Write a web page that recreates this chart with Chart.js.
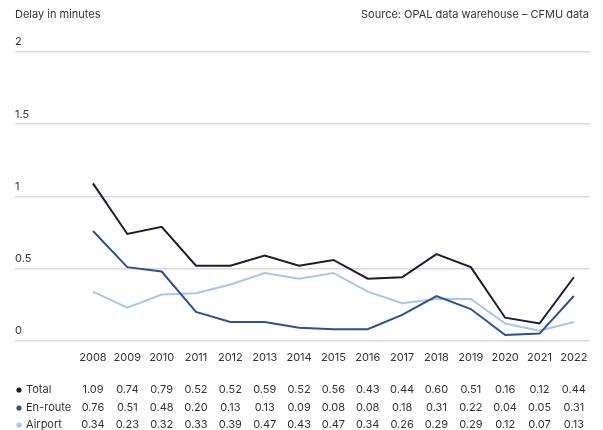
<!DOCTYPE html>
<html>
<head>
<meta charset="utf-8">
<script src="https://cdn.jsdelivr.net/npm/chart.js@4"></script>
<style>
  body { margin: 0; background: #fff; }
  canvas { display: block; }
</style>
</head>
<body>
<canvas id="delaychart" width="603" height="430"></canvas>
<script>
const years = [2008, 2009, 2010, 2011, 2012, 2013, 2014, 2015, 2016, 2017, 2018, 2019, 2020, 2021, 2022]
const total = [1.09, 0.74, 0.79, 0.52, 0.52, 0.59, 0.52, 0.56, 0.43, 0.44, 0.60, 0.51, 0.16, 0.12, 0.44]
const enRoute = [0.76, 0.51, 0.48, 0.20, 0.13, 0.13, 0.09, 0.08, 0.08, 0.18, 0.31, 0.22, 0.04, 0.05, 0.31]
const airport = [0.34, 0.23, 0.32, 0.33, 0.39, 0.47, 0.43, 0.47, 0.34, 0.26, 0.29, 0.29, 0.12, 0.07, 0.13]
const seriesNames = ['Total', 'En-route', 'Airport']
const seriesColors = ['#1b1b35', '#2d5091', '#a8c5ea']
const yTicks = [0, 0.5, 1, 1.5, 2]

const FONT = '11px Inter, "Noto Sans", sans-serif'
const TEXT = '#333333'

const toPoints = arr => arr.map((v, i) => ({ x: years[i], y: v }))
const allSeries = [total, enRoute, airport]

// header texts and the data table under the axis
const extras = {
  id: 'extras',
  afterDraw (chart) {
    const ctx = chart.ctx
    const xs = chart.scales.x
    ctx.save()
    ctx.font = FONT
    ctx.fillStyle = TEXT
    ctx.textBaseline = 'middle'
    ctx.textAlign = 'left'
    ctx.fillText('Delay in minutes', 15, 15)
    ctx.textAlign = 'right'
    ctx.fillText('Source: OPAL data warehouse \u2013 CFMU data', 589, 15)

    const rowY = [390, 408, 425]
    allSeries.forEach((arr, r) => {
      ctx.fillStyle = seriesColors[r]
      ctx.beginPath()
      ctx.arc(19, rowY[r], 2.6, 0, Math.PI * 2)
      ctx.fill()
      ctx.fillStyle = TEXT
      ctx.textAlign = 'left'
      ctx.fillText(seriesNames[r], 26, rowY[r])
      ctx.textAlign = 'center'
      arr.forEach((v, i) => {
        ctx.fillText(v.toFixed(2), xs.getPixelForValue(years[i]), rowY[r])
      })
    })
    ctx.restore()
  }
}

new Chart(document.getElementById('delaychart'), {
  type: 'line',
  data: {
    datasets: allSeries.map((arr, i) => ({
      label: seriesNames[i],
      data: toPoints(arr),
      borderColor: seriesColors[i],
      borderWidth: 2,
      pointRadius: 0,
      tension: 0
    }))
  },
  options: {
    responsive: false,
    animation: false,
    layout: { padding: { top: 52, left: 15, right: 13, bottom: 64 } },
    plugins: { legend: { display: false }, tooltip: { enabled: false } },
    scales: {
      x: {
        type: 'linear',
        min: 2005.73,
        max: 2022.47,
        afterBuildTicks: s => { s.ticks = years.map(v => ({ value: v })) },
        grid: { display: false },
        border: { display: false },
        ticks: {
          color: TEXT,
          font: { family: 'Inter, "Noto Sans", sans-serif', size: 11 },
          padding: 2,
          maxRotation: 0,
          autoSkip: false,
          callback: v => String(v)
        }
      },
      y: {
        min: 0,
        max: 2,
        afterBuildTicks: s => { s.ticks = yTicks.map(v => ({ value: v })) },
        grid: { color: '#d9d9d9', lineWidth: 1.5, drawTicks: false },
        border: { display: false },
        ticks: {
          mirror: true,
          padding: 0,
          labelOffset: -10,
          color: TEXT,
          font: { family: 'Inter, "Noto Sans", sans-serif', size: 11 },
          callback: v => String(v)
        }
      }
    }
  },
  plugins: [extras]
})
</script>
</body>
</html>
